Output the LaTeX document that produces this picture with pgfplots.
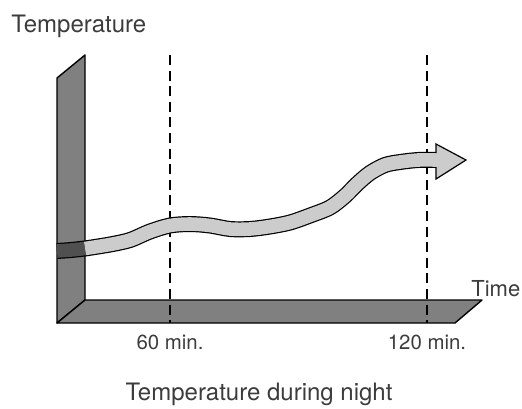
\documentclass[border=0pt]{standalone}
\usepackage{fontspec}
\setmainfont{TeX Gyre Heros}
\usepackage{pgfplots}
\pgfplotsset{compat=1.18}
\definecolor{wallgray}{RGB}{128,128,128}
\definecolor{bandgray}{RGB}{204,204,204}
\definecolor{banddark}{RGB}{80,80,80}
\definecolor{txt}{RGB}{60,60,60}
\begin{document}
\begin{tikzpicture}
\begin{axis}[
  scale only axis, width=261pt, height=204pt,
  xmin=0, xmax=522, ymin=0, ymax=408, y dir=reverse,
  hide axis, clip=false,
]
% wall and floor
\addplot[fill=wallgray, draw=black, line width=0.7pt, line join=round] coordinates {(57,78) (85,55) (85,300) (57,323)} -- cycle;
\addplot[fill=wallgray, draw=black, line width=0.7pt, line join=round] coordinates {(57,323) (85,300) (482,300) (455,323)} -- cycle;
% dashed time markers
\addplot[black, line width=0.55pt, dash pattern=on 5pt off 2.8pt] coordinates {(170,55) (170,323)};
\addplot[black, line width=0.55pt, dash pattern=on 5pt off 2.8pt] coordinates {(427,55) (427,323)};
% temperature band
\addplot[smooth, tension=0.5, draw=black, line width=0.6pt, double=banddark, double distance=6.8pt] coordinates {(57,251) (71,250) (85,248.5)};
\addplot[smooth, tension=0.5, draw=black, line width=0.6pt, double=bandgray, double distance=6.8pt] coordinates {
(85,248.5) (110,244.5) (130,240) (150,231.5) (170,225.5) (190,224) (210,225.5) (230,229) (250,229) (270,226.5) (290,222.5) (310,215.5) (330,207.5) (345,196) (357,184) (370,173) (385,165) (400,162) (418,160) (436,160)};
% arrow head
\addplot[fill=bandgray, draw=none] coordinates {(436,144) (466,160) (436,179)} -- cycle;
\addplot[black, line width=0.6pt, line join=miter] coordinates {(436,153) (436,144) (466,160) (436,179) (436,167)};
% texts
\node[anchor=base west, text=txt, font=\fontsize{12pt}{14pt}\selectfont, inner sep=0pt] at (axis cs:11,32) {Temperature};
\node[anchor=base west, text=txt, font=\fontsize{11pt}{13pt}\selectfont, inner sep=0pt] at (axis cs:471,296) {Time};
\node[anchor=base, text=txt, font=\fontsize{10.2pt}{12pt}\selectfont, inner sep=0pt] at (axis cs:170,349) {60 min.};
\node[anchor=base, text=txt, font=\fontsize{10.2pt}{12pt}\selectfont, inner sep=0pt] at (axis cs:427,349) {120 min.};
\node[anchor=base, text=txt, font=\fontsize{12pt}{14pt}\selectfont, inner sep=0pt] at (axis cs:259,400) {Temperature during night};
\coordinate (BL) at (axis cs:0,408);
\coordinate (TR) at (axis cs:522,0);
\end{axis}
\pgfresetboundingbox
\path[use as bounding box] (BL) rectangle (TR);
\end{tikzpicture}
\end{document}
